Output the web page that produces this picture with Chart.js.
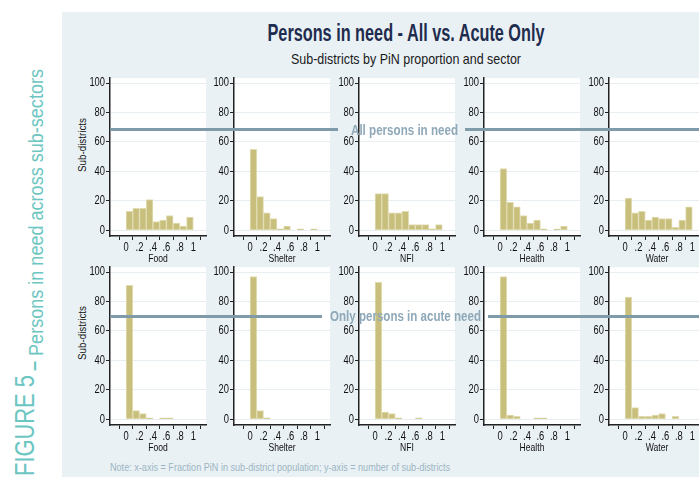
<!DOCTYPE html>
<html>
<head>
<meta charset="utf-8">
<script src="https://cdn.jsdelivr.net/npm/chart.js@4.4.1/dist/chart.umd.min.js"></script>
<style>
  html, body { margin:0; padding:0; }
  body { width:699px; height:477px; position:relative; overflow:hidden; background:#fff;
         font-family:'Liberation Sans', Arial, sans-serif; }
  #bgpanel { position:absolute; left:62px; top:12px; width:637px; height:465px; background:#E9F1F5; }
  .abs { position:absolute; white-space:nowrap; }
  #title { left:406px; top:20px; font-size:23px; line-height:26px; font-weight:bold; color:#1F2C4E; }
  #subtitle { left:406px; top:50px; font-size:15px; line-height:17px; color:#1a1a1a; }
  .ytitle { font-size:11px; line-height:12px; color:#111; }
  .hline { position:absolute; height:3px; background:#7F9BAA; z-index:10; }
  .htext { font-size:15px; line-height:16px; font-weight:bold; color:#8EA8B8; z-index:10; transform-origin:0 50%; }
  #note { left:110px; top:461px; font-size:11px; line-height:12px; color:#9DB5C2; transform-origin:0 50%; }
  .side { left:0; top:0; transform-origin:0 0; color:#6CC6C1; }
  .dash { position:relative; top:-3px; font-weight:bold; }
</style>
</head>
<body>
<div id="bgpanel"></div>
<div id="title" class="abs fit" data-w="277" data-pre="translateX(-50%)">Persons in need - All vs. Acute Only</div>
<div id="subtitle" class="abs fit" data-w="230" data-pre="translateX(-50%)">Sub-districts by PiN proportion and sector</div>
<div class="abs ytitle fit" data-w="54" data-pre="translate(-50%,-50%) rotate(-90deg)" style="left:82px;top:145px;">Sub-districts</div>
<div class="abs ytitle fit" data-w="54" data-pre="translate(-50%,-50%) rotate(-90deg)" style="left:82px;top:333px;">Sub-districts</div>
<div class="abs side fit" data-w="101" data-pre="translate(12px,476px) rotate(-90deg)" style="font-size:27px;line-height:27px;">FIGURE 5</div>
<div class="abs side fit" data-w="302" data-pre="translate(26px,371px) rotate(-90deg)" style="font-size:20px;line-height:20px;"><span class="dash">–</span> Persons in need across sub-sectors</div>
<div id="note" class="abs fit" data-w="340" data-pre="translateY(-50%)" style="top:467px;">Note: x-axis = Fraction PiN in sub-district population; y-axis = number of sub-districts</div>

<div class="hline" style="left:110px;top:128px;width:228px;"></div>
<div class="hline" style="left:465px;top:128px;width:234px;"></div>
<div class="abs htext fit" data-w="107" data-pre="translateY(-50%)" style="left:351px;top:130px;">All persons in need</div>
<div class="hline" style="left:110px;top:315px;width:212px;"></div>
<div class="hline" style="left:488px;top:315px;width:211px;"></div>
<div class="abs htext fit" data-w="151" data-pre="translateY(-50%)" style="left:330px;top:316px;">Only persons in acute need</div>

<script>
// ---- data ----
const categories = ['Food', 'Shelter', 'NFI', 'Health', 'Water'];
const binCenters = [0.05, 0.15, 0.25, 0.35, 0.45, 0.55, 0.65, 0.75, 0.85, 0.95];
const allFood    = [13, 15, 15, 21, 6, 7, 10, 5, 3, 9];
const allShelter = [55, 23, 12, 8, 1, 3, 0, 1, 0, 1];
const allNFI     = [25, 25, 12, 12, 13, 4, 4, 4, 1, 4];
const allHealth  = [42, 19, 16, 10, 5, 7, 1, 0, 1, 3];
const allWater   = [22, 12, 13, 7, 9, 8, 8, 2, 7, 16];
const acuteFood    = [91, 6, 4, 1, 0, 1, 1, 0, 0, 0];
const acuteShelter = [97, 6, 1, 0, 0, 0, 0, 0, 0, 0];
const acuteNFI     = [93, 5, 4, 1, 0, 0, 1, 0, 0, 0];
const acuteHealth  = [97, 3, 2, 0, 0, 1, 1, 0, 0, 0];
const acuteWater   = [83, 8, 2, 2, 3, 4, 0, 2, 0, 0];
const yTicks = [0, 20, 40, 60, 80, 100];
const xTicks = [0, 0.2, 0.4, 0.6, 0.8, 1];
const xTickLabels = ['0', '.2', '.4', '.6', '.8', '1'];

// ---- fit HTML text widths (condensed look) ----
document.querySelectorAll('.fit').forEach(el => {
  const w = el.getBoundingClientRect().width;
  const s = (+el.dataset.w) / w;
  el.style.transform = (el.dataset.pre || '') + ' scaleX(' + s.toFixed(4) + ')';
});

// ---- layout ----
const FONT = "'Liberation Sans', Arial, sans-serif";
const TEXT_SX = 0.78;
const colX = [110, 234, 359, 484, 609];
const rowTop = [76, 265];
const rows = [
  [allFood, allShelter, allNFI, allHealth, allWater],
  [acuteFood, acuteShelter, acuteNFI, acuteHealth, acuteWater]
];
const AXW = 40, PADT = 6, PADR = 4, AREAW = 96, AREAH = 160, XAXH = 34;

const whiteArea = {
  id: 'whiteArea',
  beforeDraw(chart) {
    const a = chart.chartArea, ctx = chart.ctx;
    ctx.save();
    ctx.fillStyle = '#ffffff';
    ctx.fillRect(a.left, a.top, a.right - a.left, a.bottom - a.top);
    ctx.restore();
  }
};

rows.forEach((row, r) => row.forEach((vals, c) => {
  const W = AXW + AREAW + PADR, H = PADT + AREAH + XAXH;
  const cv = document.createElement('canvas');
  cv.width = W; cv.height = H;
  cv.style.cssText = `position:absolute;left:${colX[c] - AXW}px;top:${rowTop[r] - PADT}px;width:${W}px;height:${H}px;z-index:2;`;
  document.body.appendChild(cv);
  // condensed-looking canvas text: squeeze horizontally around the anchor point
  const ctx = cv.getContext('2d');
  const origFill = ctx.fillText;
  ctx.fillText = function (t, x, y) {
    this.save(); this.translate(x, y); this.scale(TEXT_SX, 1);
    origFill.call(this, t, 0, 0);
    this.restore();
  };
  new Chart(cv, {
    type: 'bar',
    data: {
      datasets: [{
        data: binCenters.map((x, i) => ({ x: x, y: vals[i] })),
        backgroundColor: '#C9BF7D',
        borderColor: '#E2DCB3',
        borderWidth: 1,
        borderSkipped: false,
        barPercentage: 1,
        categoryPercentage: 1
      }]
    },
    options: {
      responsive: false,
      animation: false,
      layout: { padding: { left: 0, top: PADT, right: PADR, bottom: 0 } },
      plugins: { legend: { display: false }, tooltip: { enabled: false } },
      scales: {
        x: {
          type: 'linear', min: -0.12, max: 1.07,
          afterBuildTicks: s => { s.ticks = xTicks.map(v => ({ value: v })); },
          afterFit: s => { s.height = XAXH; },
          ticks: { callback: (v, i) => xTickLabels[i], font: { family: FONT, size: 12 }, color: '#111', padding: 0, maxRotation: 0, autoSkip: false },
          grid: { drawOnChartArea: false, drawTicks: true, tickLength: 4, tickColor: '#222' },
          border: { color: '#222', width: 1.5 },
          title: { display: true, text: categories[c], font: { family: FONT, size: 11 }, color: '#111', padding: { top: 0, bottom: 4 } }
        },
        y: {
          type: 'linear', min: -3.8, max: 103.3,
          afterBuildTicks: s => { s.ticks = yTicks.map(v => ({ value: v })); },
          afterFit: s => { s.width = AXW; },
          ticks: { font: { family: FONT, size: 12 }, color: '#111', padding: 1, autoSkip: false },
          grid: { color: '#E6EEF2', lineWidth: 1, tickLength: 4, tickColor: '#222' },
          border: { color: '#222', width: 1.5 }
        }
      }
    },
    plugins: [whiteArea]
  });
}));
</script>
</body>
</html>
